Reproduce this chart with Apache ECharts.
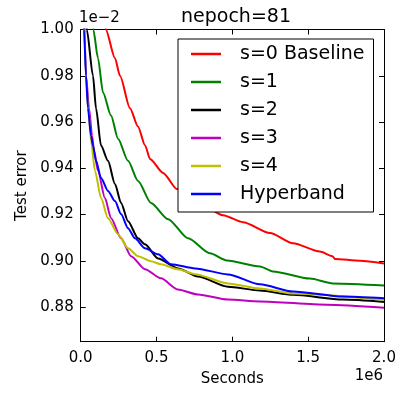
<!DOCTYPE html>
<html><head><meta charset="utf-8">
<script src="https://cdn.jsdelivr.net/npm/echarts@6/dist/echarts.min.js"></script>
<style>html,body{margin:0;padding:0;background:#fff}#c{width:413px;height:393px}</style>
</head><body><div id="c"></div>
<script>
// x in units of 1e6 seconds, y in units of 1e-2 (test error)
const seriesNames = ['s=0 Baseline','s=1','s=2','s=3','s=4','Hyperband'];
const seriesColors = ['#ff0000','#008000','#000000','#bf00bf','#bfbf00','#0000ff'];
const yTicks = [0.88,0.90,0.92,0.94,0.96,0.98,1.00];
const xTicks = [0,0.5,1.0,1.5,2.0];

const s0 = [[0.15,1.01],[0.165,1.000],[0.226,0.9876],[0.259,0.980],[0.325,0.966],[0.378,0.958],[0.424,0.950],[0.457,0.944],[0.543,0.938],[0.635,0.931],[0.786,0.925],[0.938,0.9197],[1.070,0.9167],[1.248,0.912],[1.40,0.9076],[1.577,0.904],[1.66,0.902],[1.676,0.9008],[1.841,0.9000],[2.0,0.8988]];
const s1 = [[0.075,1.01],[0.083,1.0],[0.114,0.9876],[0.147,0.9728],[0.200,0.9628],[0.246,0.9528],[0.312,0.9432],[0.378,0.9345],[0.463,0.925],[0.576,0.918],[0.708,0.9097],[0.852,0.9032],[0.964,0.9001],[1.182,0.8975],[1.267,0.8954],[1.511,0.8923],[1.663,0.8902],[2.0,0.8893]];
const s2 = [[0.035,1.01],[0.040,1.0],[0.081,0.980],[0.101,0.9659],[0.134,0.9498],[0.180,0.9432],[0.226,0.9332],[0.266,0.925],[0.312,0.9171],[0.378,0.9097],[0.424,0.9071],[0.510,0.9010],[0.641,0.8967],[0.773,0.8932],[0.971,0.8888],[1.182,0.8871],[1.40,0.8853],[1.729,0.8832],[2.0,0.8822]];
const s3 = [[0.022,1.01],[0.035,0.980],[0.055,0.9659],[0.075,0.954],[0.088,0.9476],[0.114,0.9389],[0.160,0.9271],[0.200,0.9184],[0.266,0.9097],[0.332,0.902],[0.424,0.8963],[0.529,0.8924],[0.641,0.8876],[0.773,0.8854],[0.971,0.8832],[1.182,0.8824],[1.624,0.8810],[2.0,0.8797]];
const s4 = [[0.022,1.01],[0.033,0.980],[0.050,0.966],[0.068,0.952],[0.094,0.9389],[0.134,0.9271],[0.180,0.9184],[0.246,0.9115],[0.312,0.9054],[0.378,0.902],[0.463,0.8998],[0.529,0.8985],[0.641,0.8963],[0.755,0.8942],[0.971,0.8902],[1.182,0.888],[1.40,0.8858],[2.0,0.8830]];
const hb = [[0.015,1.01],[0.022,1.0],[0.035,0.980],[0.048,0.9659],[0.068,0.954],[0.081,0.9498],[0.101,0.9432],[0.134,0.9358],[0.180,0.9302],[0.226,0.9258],[0.266,0.9202],[0.312,0.9141],[0.358,0.9097],[0.424,0.9054],[0.510,0.9028],[0.595,0.8985],[0.755,0.8967],[0.971,0.8941],[1.182,0.8898],[1.40,0.8867],[1.729,0.8845],[2.0,0.8838]];
const seriesData = [s0,s1,s2,s3,s4,hb];

const FONT = 'DejaVu Sans';
const chart = echarts.init(document.getElementById('c'), null, {renderer:'canvas'});
const tickStyle = {inside:true, length:5, lineStyle:{color:'#000',width:1}};
const option = {
  animation:false,
  textStyle:{fontFamily:FONT,color:'#000'},
  title:{text:'nepoch=81', left:231, top:3, textAlign:'center',
    textStyle:{fontFamily:FONT,fontSize:19,fontWeight:'normal',color:'#000'}},
  grid:{left:80.7, right:29, top:29.5, bottom:51.3},
  legend:{
    orient:'vertical', left:178, top:39,
    padding:[5,9,8,13], itemGap:8, itemWidth:30, itemHeight:14,
    borderColor:'#000', borderWidth:1, backgroundColor:'#fff',
    textStyle:{fontFamily:FONT,fontSize:19,color:'#000',lineHeight:20,padding:[0,0,0,14]},
    data:seriesNames.map((n,i)=>({name:n,icon:'path://M0,0L30,0L30,2.5L0,2.5Z',itemStyle:{color:seriesColors[i]}})),
    itemStyle:{borderWidth:0}
  },
  xAxis:[{
    type:'value', min:0, max:2, interval:0.5,
    name:'Seconds', nameLocation:'middle', nameGap:30,
    nameTextStyle:{fontFamily:FONT,fontSize:15,color:'#000'},
    axisLine:{show:true,lineStyle:{color:'#000',width:1}},
    axisTick:tickStyle, splitLine:{show:false},
    axisLabel:{fontFamily:FONT,fontSize:15,color:'#000',margin:9,formatter:v=>v.toFixed(1),
      customValues:xTicks}
  },{
    type:'value', position:'top', min:0, max:2, interval:0.5,
    axisLine:{show:true,onZero:false,lineStyle:{color:'#000',width:1}},
    axisTick:tickStyle, axisLabel:{show:false}, splitLine:{show:false}
  }],
  yAxis:[{
    type:'value', min:0.865, max:1.0,
    name:'Test error', nameLocation:'middle', nameGap:50,
    nameTextStyle:{fontFamily:FONT,fontSize:15,color:'#000'},
    axisLine:{show:true,lineStyle:{color:'#000',width:1}},
    axisTick:Object.assign({customValues:yTicks},tickStyle), splitLine:{show:false},
    axisLabel:{fontFamily:FONT,fontSize:15,color:'#000',margin:7,formatter:v=>v.toFixed(2),
      customValues:yTicks}
  },{
    type:'value', position:'right', min:0.865, max:1.0,
    axisLine:{show:true,onZero:false,lineStyle:{color:'#000',width:1}},
    axisTick:Object.assign({customValues:yTicks},tickStyle), axisLabel:{show:false}, splitLine:{show:false}
  }],
  graphic:[
    {type:'text', left:79, top:11, style:{text:'1e\u22122', font:'15px "DejaVu Sans"', fill:'#000'}},
    {type:'text', right:30, top:369, style:{text:'1e6', font:'15px "DejaVu Sans"', fill:'#000'}}
  ],
  series:seriesNames.map((n,i)=>({
    name:n, type:'line', data:seriesData[i], symbol:'none', clip:true,
    smooth:0.25, smoothMonotone:'x',
    lineStyle:{color:seriesColors[i], width:2}, itemStyle:{color:seriesColors[i]}
  }))
};
chart.setOption(option);
</script></body></html>
